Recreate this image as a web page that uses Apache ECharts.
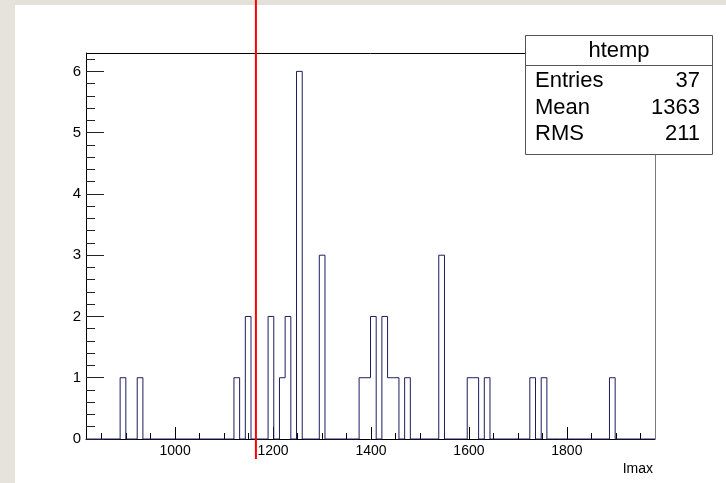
<!DOCTYPE html>
<html>
<head>
<meta charset="utf-8">
<script src="https://cdn.jsdelivr.net/npm/echarts@6/dist/echarts.min.js"></script>
<style>
  html, body { margin: 0; padding: 0; background: #ffffff; }
  #chart { width: 726px; height: 483px; }
</style>
</head>
<body>
<div id="chart"></div>
<script>
// Histogram "htemp" of Imax: 100 equal bins between histMin and histMax
const histMin = 818;
const histMax = 1980;
const binCounts = [
  0, 0, 0, 0, 0, 0, 1, 0, 0, 1,
  0, 0, 0, 0, 0, 0, 0, 0, 0, 0,
  0, 0, 0, 0, 0, 0, 1, 0, 2, 0,
  0, 0, 2, 0, 1, 2, 0, 6, 0, 0,
  0, 3, 0, 0, 0, 0, 0, 0, 1, 1,
  2, 0, 2, 1, 1, 0, 1, 0, 0, 0,
  0, 0, 3, 0, 0, 0, 0, 1, 1, 0,
  1, 0, 0, 0, 0, 0, 0, 0, 1, 0,
  1, 0, 0, 0, 0, 0, 0, 0, 0, 0,
  0, 0, 1, 0, 0, 0, 0, 0, 0, 0
];

// Axis ticks and labels
const xMajorTicks = [1000, 1200, 1400, 1600, 1800];
const xMinorTicks = [850, 900, 950, 1000, 1050, 1100, 1150, 1200, 1250, 1300, 1350,
  1400, 1450, 1500, 1550, 1600, 1650, 1700, 1750, 1800, 1850, 1900, 1950];
const yMajorTicks = [0, 1, 2, 3, 4, 5, 6];
const yMinorTicks = [0.2, 0.4, 0.6, 0.8, 1.2, 1.4, 1.6, 1.8, 2.2, 2.4, 2.6, 2.8,
  3.2, 3.4, 3.6, 3.8, 4.2, 4.4, 4.6, 4.8, 5.2, 5.4, 5.6, 5.8, 6.2];
const yTop = 6.3;
const xTitle = 'Imax';

// Cut position marked by the red vertical line
const cutValue = 1165;

// Statistics box
const statsTitle = 'htemp';
const statsNames = ['Entries', 'Mean', 'RMS'];
const statsValues = ['37', '1363', '211'];

const FONT = "'Liberation Sans', Arial, Helvetica, sans-serif";

// Step outline: one point per lower bin edge, closed at the upper edge
const binWidth = (histMax - histMin) / binCounts.length;
const outline = binCounts.map((c, i) => [histMin + i * binWidth, c]);
outline.push([histMax, 0]);

const chart = echarts.init(document.getElementById('chart'), null, { renderer: 'canvas' });

const frame = { left: 86, top: 53, right: 655, bottom: 439 };
const plainNumber = v => String(v);

const option = {
  animation: false,
  backgroundColor: '#ffffff',
  grid: {
    left: frame.left,
    top: frame.top,
    width: frame.right - frame.left,
    height: frame.bottom - frame.top,
    show: false
  },
  xAxis: [
    {
      type: 'value',
      min: histMin,
      max: histMax,
      position: 'bottom',
      axisLine: { show: true, onZero: false, lineStyle: { color: '#000', width: 1 } },
      axisTick: { show: true, inside: true, length: 12, customValues: xMajorTicks,
        lineStyle: { color: '#000', width: 1 } },
      axisLabel: { show: true, customValues: xMajorTicks, margin: 5, formatter: plainNumber,
        fontFamily: FONT, fontSize: 14, color: '#000' },
      splitLine: { show: false }
    },
    {
      type: 'value',
      min: histMin,
      max: histMax,
      position: 'bottom',
      offset: 0,
      axisLine: { show: false, onZero: false },
      axisTick: { show: true, inside: true, length: 6, customValues: xMinorTicks,
        lineStyle: { color: '#000', width: 1 } },
      axisLabel: { show: false },
      splitLine: { show: false }
    }
  ],
  yAxis: [
    {
      type: 'value',
      min: 0,
      max: yTop,
      position: 'left',
      axisLine: { show: true, onZero: false, lineStyle: { color: '#000', width: 1 } },
      axisTick: { show: true, inside: true, length: 18, customValues: yMajorTicks,
        lineStyle: { color: '#222', width: 1 } },
      axisLabel: { show: true, customValues: yMajorTicks, margin: 5, formatter: plainNumber,
        fontFamily: FONT, fontSize: 15, color: '#000' },
      splitLine: { show: false }
    },
    {
      type: 'value',
      min: 0,
      max: yTop,
      position: 'left',
      offset: 0,
      axisLine: { show: false, onZero: false },
      axisTick: { show: true, inside: true, length: 9, customValues: yMinorTicks,
        lineStyle: { color: '#222', width: 1 } },
      axisLabel: { show: false },
      splitLine: { show: false }
    }
  ],
  series: [
    {
      name: statsTitle,
      type: 'line',
      xAxisIndex: 0,
      yAxisIndex: 0,
      step: 'end',
      data: outline,
      showSymbol: false,
      symbol: 'none',
      clip: false,
      z: 5,
      lineStyle: { color: '#1c1c60', width: 1 }
    }
  ]
};

chart.setOption(option);

// Decorations placed after layout so the cut line uses the axis scale
const cutX = chart.convertToPixel({ xAxisIndex: 0 }, cutValue);

const box = { x: 525.5, y: 35.5, w: 187, h: 119, titleH: 30 };
const rowY = [81, 108, 134];

const graphics = [
  // textured border bands of the canvas
  { type: 'rect', shape: { x: 0, y: 0, width: 726, height: 5 }, style: { fill: '#e4e1db' }, z: 1, silent: true },
  { type: 'rect', shape: { x: 0, y: 0, width: 15, height: 483 }, style: { fill: '#e6e3dd' }, z: 1, silent: true },
  // frame: top and right edges
  { type: 'line', shape: { x1: frame.left, y1: frame.top + 0.5, x2: frame.right, y2: frame.top + 0.5 },
    style: { stroke: '#000', lineWidth: 1 }, z: 6 },
  { type: 'line', shape: { x1: frame.right + 0.5, y1: frame.top, x2: frame.right + 0.5, y2: frame.bottom },
    style: { stroke: '#7a7a7a', lineWidth: 1 }, z: 6 },
  // statistics box
  { type: 'rect', shape: { x: box.x, y: box.y, width: box.w, height: box.h },
    style: { fill: '#fff', stroke: '#555', lineWidth: 1 }, z: 20 },
  { type: 'line', shape: { x1: box.x, y1: box.y + box.titleH, x2: box.x + box.w, y2: box.y + box.titleH },
    style: { stroke: '#555', lineWidth: 1 }, z: 21 },
  { type: 'text', x: box.x + box.w / 2, y: 51, z: 22,
    style: { text: statsTitle, fontFamily: FONT, fontSize: 22, fill: '#000', align: 'center', verticalAlign: 'middle' } },
  // axis title
  { type: 'text', x: 653, y: 469, z: 22,
    style: { text: xTitle, fontFamily: FONT, fontSize: 14, fill: '#000', align: 'right', verticalAlign: 'middle' } },
  // cut line
  { type: 'line', shape: { x1: cutX, y1: 0, x2: cutX, y2: 459 },
    style: { stroke: '#ff0000', lineWidth: 2 }, z: 30 }
];

statsNames.forEach((name, i) => {
  graphics.push({ type: 'text', x: 535, y: rowY[i], z: 22,
    style: { text: name, fontFamily: FONT, fontSize: 22, fill: '#000', align: 'left', verticalAlign: 'middle' } });
  graphics.push({ type: 'text', x: 700, y: rowY[i], z: 22,
    style: { text: statsValues[i], fontFamily: FONT, fontSize: 22, fill: '#000', align: 'right', verticalAlign: 'middle' } });
});

chart.setOption({ graphic: graphics });
</script>
</body>
</html>
